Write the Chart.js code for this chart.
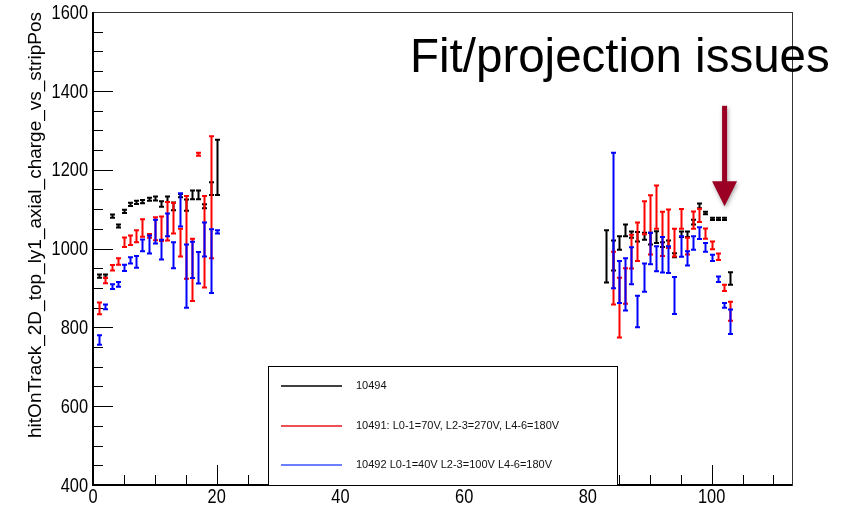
<!DOCTYPE html>
<html>
<head>
<meta charset="utf-8">
<script src="https://cdn.jsdelivr.net/npm/chart.js@4/dist/chart.umd.min.js"></script>
<style>
  html, body { margin: 0; padding: 0; background: #fff; }
  #chart { display: block; }
</style>
</head>
<body>
<canvas id="chart" width="848" height="508"></canvas>
<script>
// strip positions (bin centres), left cluster then right cluster
const stripPos = [
  1, 2, 3, 4, 5, 6, 7, 8, 9, 10, 11, 12, 13, 14, 15, 16, 17, 18, 19, 20,
  83, 84, 85, 86, 87, 88, 89, 90, 91, 92, 93, 94, 95, 96, 97, 98, 99, 100, 101, 102, 103
];

// run 10494
const run10494 = [
  930, 930, 1082, 1057, 1094, 1112, 1117, 1119, 1125, 1127, 1113, 1125, 1107, 1134, 1110, 1136, 1136, 1107, 1152, 1206,
  980, 982, 1014, 1046, 1035, 1030, 1031, 1025, 1029, 1010, 1012, 983, 1036, 1036, 1067, 1108, 1090, 1075, 1075, 1075, 924
];
const run10494Err = [
  4, 4, 4, 4, 4, 4, 4, 4, 4, 5, 7, 7, 10, 4, 14, 11, 11, 5, 16, 70,
  66, 38, 17, 15, 8, 12, 9, 15, 15, 6, 8, 5, 7, 7, 6, 6, 3, 3, 3, 3, 16
];

// run 10491
const run10491 = [
  848, 919, 951, 967, 1016, 1021, 1031, 1052, 1032, 1050, 1050, 1069, 1077, 1015, 1028, 946, 1239, 1017, 1130, null,
  null, 925, 850, 905, 992, 1017, 1078, 1060, 1105, 1037, 1050, 1015, 1075, 1006, 1072, 1084, 1038, 1008, 979, 900, 841
];
const run10491Err = [
  15, 7, 7, 8, 12, 12, 15, 22, 5, 29, 31, 49, 39, 35, 105, 79, 4, 116, 155, null,
  null, 67, 76, 45, 43, 49, 42, 75, 55, 56, 49, 35, 25, 21, 22, 17, 13, 10, 8, 8, 24
];

// run 10492
const run10492 = [
  768, 852, 903, 909, 951, 970, 966, 1008, 1010, 1043, 997, 1060, 983, 1098, 930, 971, 951, 1023, 968, 1042,
  null, 1071, 915, 909, 956, 840, 926, 1000, 974, 984, 972, 881, 1005, 975, 1014, 1039, 1003, 976, 922, 856, 814
];
const run10492Err = [
  12, 6, 6, 6, 8, 8, 15, 15, 23, 30, 25, 29, 33, 42, 80, 46, 40, 43, 81, 4,
  null, 172, 53, 66, 47, 40, 36, 40, 32, 45, 34, 47, 26, 18, 17, 15, 11, 8, 7, 6, 31
];

const seriesLabels = [
  "10494",
  "10491: L0-1=70V, L2-3=270V, L4-6=180V",
  "10492 L0-1=40V L2-3=100V L4-6=180V"
];
const seriesColors = ["#000000", "#ff0000", "#0000ff"];

const xTicks = [0, 20, 40, 60, 80, 100];
const yTicks = [400, 600, 800, 1000, 1200, 1400, 1600];

// annotation: arrow pointing at the last strips
const arrowX = 102.1;
const arrowFrom = 1362;
const arrowTo = 1107;

function toPoints(vals, errs) {
  const pts = [];
  stripPos.forEach((x, i) => {
    if (vals[i] === null) return;
    pts.push({ x: x, y: vals[i], err: errs[i] });
  });
  return pts;
}

const labelFont = "21px 'Liberation Sans', Arial, sans-serif";

// narrow (ROOT-like) tick label
function narrowText(ctx, text, x, y, align, baseline) {
  ctx.save();
  ctx.translate(x, y);
  ctx.scale(0.78, 1);
  ctx.textAlign = align;
  ctx.textBaseline = baseline;
  ctx.fillText(text, 0, 0);
  ctx.restore();
}

// frame, inner ticks and tick labels (ROOT style)
const framePlugin = {
  id: "frame",
  afterDatasetsDraw(chart) {
    const ctx = chart.ctx;
    const a = chart.chartArea;
    const xs = chart.scales.x;
    const ys = chart.scales.y;
    ctx.save();
    ctx.strokeStyle = "#000";
    ctx.lineWidth = 1;
    for (let v = 400; v <= 1600; v += 50) {
      const py = Math.round(ys.getPixelForValue(v)) + 0.5;
      const len = v % 200 === 0 ? 20 : 10;
      ctx.beginPath();
      ctx.moveTo(a.left, py);
      ctx.lineTo(a.left + len, py);
      ctx.stroke();
    }
    for (let v = 0; v <= 110; v += 5) {
      const px = Math.round(xs.getPixelForValue(v)) + 0.5;
      const len = v % 20 === 0 ? 20 : 10;
      ctx.beginPath();
      ctx.moveTo(px, a.bottom);
      ctx.lineTo(px, a.bottom - len);
      ctx.stroke();
    }
    ctx.strokeStyle = "#333";
    ctx.lineWidth = 1;
    ctx.strokeRect(Math.round(a.left) + 0.5, Math.round(a.top) + 0.5,
      Math.round(a.right - a.left), Math.round(a.bottom - a.top));
    ctx.strokeStyle = "#000";
    ctx.lineWidth = 2;
    ctx.beginPath();
    ctx.moveTo(a.left, a.top);
    ctx.lineTo(a.left, a.bottom);
    ctx.lineTo(a.right, a.bottom);
    ctx.stroke();

    // tick labels
    ctx.fillStyle = "#000";
    ctx.font = labelFont;
    ys.ticks.forEach((t) => {
      narrowText(ctx, String(t.value), a.left - 5, ys.getPixelForValue(t.value) + 1, "right", "middle");
    });
    xs.ticks.forEach((t) => {
      narrowText(ctx, String(t.value), xs.getPixelForValue(t.value), a.bottom + 2, "center", "top");
    });
    ctx.restore();
  }
};

// error bars with caps, drawn through the scales
const errorBarPlugin = {
  id: "errorBars",
  afterDatasetsDraw(chart) {
    const ctx = chart.ctx;
    const xs = chart.scales.x;
    const ys = chart.scales.y;
    ctx.save();
    ctx.lineWidth = 2;
    chart.data.datasets.forEach((ds) => {
      ctx.strokeStyle = ds.borderColor;
      ds.data.forEach((p) => {
        const px = Math.round(xs.getPixelForValue(p.x)) + 0.5;
        const top = ys.getPixelForValue(p.y + p.err);
        const bot = ys.getPixelForValue(p.y - p.err);
        ctx.beginPath();
        ctx.moveTo(px, top);
        ctx.lineTo(px, bot);
        ctx.moveTo(px - 2.5, top);
        ctx.lineTo(px + 2.5, top);
        ctx.moveTo(px - 2.5, bot);
        ctx.lineTo(px + 2.5, bot);
        ctx.stroke();
      });
    });
    ctx.restore();
  }
};

// legend box inside the frame + annotation text and arrow
const overlayPlugin = {
  id: "overlay",
  afterDraw(chart) {
    const ctx = chart.ctx;
    const xs = chart.scales.x;
    const ys = chart.scales.y;
    ctx.save();

    // legend
    const lx = 268, ly = 366, lw = 349, lh = chart.chartArea.bottom - 366;
    ctx.fillStyle = "#fff";
    ctx.fillRect(lx, ly, lw, lh);
    ctx.strokeStyle = "#000";
    ctx.lineWidth = 1;
    ctx.strokeRect(lx + 0.5, ly + 0.5, lw, lh);
    const rows = [386, 426, 465];
    ctx.font = "11px 'Liberation Sans', Arial, sans-serif";
    ctx.textBaseline = "middle";
    chart.data.datasets.forEach((ds, i) => {
      ctx.strokeStyle = ds.legendColor;
      ctx.lineWidth = 1.5;
      ctx.beginPath();
      ctx.moveTo(281, rows[i]);
      ctx.lineTo(342, rows[i]);
      ctx.stroke();
      ctx.fillStyle = "#111";
      ctx.fillText(ds.label, 356, rows[i]);
    });

    // annotation text
    ctx.fillStyle = "#000";
    ctx.font = "47.5px 'Liberation Sans', Arial, sans-serif";
    ctx.textBaseline = "alphabetic";
    ctx.fillText("Fit/projection issues", 410, 72);

    // arrow
    const ax = xs.getPixelForValue(arrowX);
    const y0 = ys.getPixelForValue(arrowFrom);
    const y1 = ys.getPixelForValue(arrowTo);
    ctx.shadowColor = "rgba(0,0,0,0.35)";
    ctx.shadowBlur = 4;
    ctx.shadowOffsetX = 1;
    ctx.shadowOffsetY = 2;
    ctx.fillStyle = "#9b0024";
    ctx.fillRect(ax - 2.5, y0, 5, (y1 - y0) - 24);
    ctx.beginPath();
    ctx.moveTo(ax - 12.5, y1 - 25);
    ctx.lineTo(ax + 12.5, y1 - 25);
    ctx.lineTo(ax, y1);
    ctx.closePath();
    ctx.fill();
    ctx.restore();
  }
};

const chart = new Chart(document.getElementById("chart"), {
  type: "scatter",
  data: {
    datasets: [
      { label: seriesLabels[0], data: toPoints(run10494, run10494Err), borderColor: seriesColors[0], legendColor: "#000", pointRadius: 0 },
      { label: seriesLabels[1], data: toPoints(run10491, run10491Err), borderColor: seriesColors[1], legendColor: "#e8141e", pointRadius: 0 },
      { label: seriesLabels[2], data: toPoints(run10492, run10492Err), borderColor: seriesColors[2], legendColor: "#3a55ff", pointRadius: 0 }
    ]
  },
  options: {
    responsive: false,
    animation: false,
    layout: { padding: { left: 0, top: 12, right: 56, bottom: 0 } },
    plugins: {
      legend: { display: false },
      tooltip: { enabled: false }
    },
    scales: {
      x: {
        type: "linear",
        min: 0,
        max: 113,
        afterFit: (scale) => { scale.height = 23; },
        afterBuildTicks: (scale) => { scale.ticks = xTicks.map((v) => ({ value: v })); },
        grid: { display: false, drawTicks: false },
        border: { display: false },
        ticks: { display: false }
      },
      y: {
        type: "linear",
        min: 400,
        max: 1600,
        afterFit: (scale) => { scale.width = 93; },
        afterBuildTicks: (scale) => { scale.ticks = yTicks.map((v) => ({ value: v })); },
        grid: { display: false, drawTicks: false },
        border: { display: false },
        ticks: { display: false },
        title: {
          display: true,
          text: "hitOnTrack_2D_top_ly1_axial_charge_vs_stripPos",
          align: "end",
          color: "#000",
          font: { family: "'Liberation Sans', Arial, sans-serif", size: 19 },
          padding: { top: 24, bottom: 0 }
        }
      }
    }
  },
  plugins: [framePlugin, errorBarPlugin, overlayPlugin]
});
</script>
</body>
</html>
